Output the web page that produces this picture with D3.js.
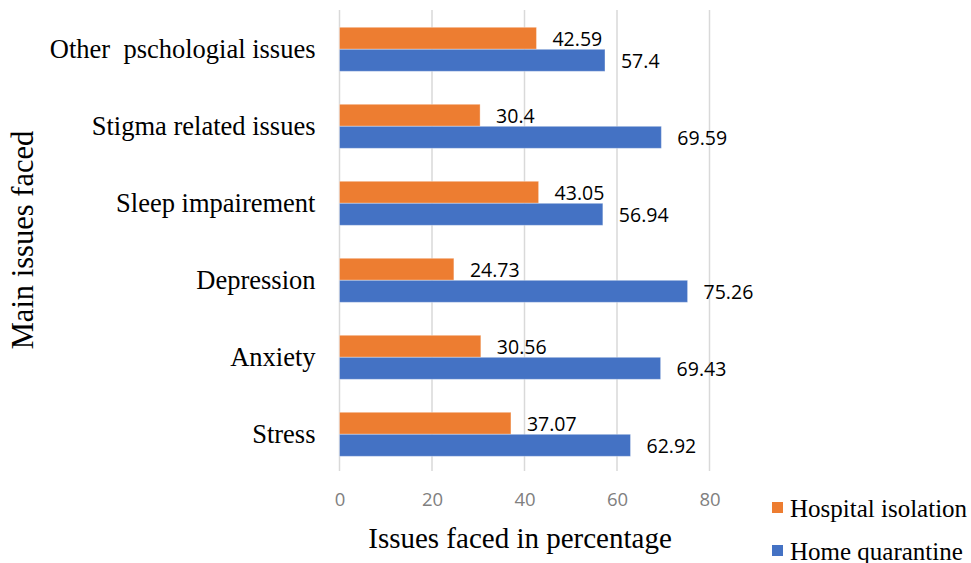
<!DOCTYPE html>
<html><head><meta charset="utf-8">
<script src="https://cdn.jsdelivr.net/npm/d3@7"></script>
<style>body{margin:0;background:#fff}</style>
</head><body>
<svg id="c" width="971" height="563"></svg>
<script>
const categories = ["Other  pschologial issues","Stigma related issues","Sleep impairement","Depression","Anxiety","Stress"];
const hospital = [42.59, 30.4, 43.05, 24.73, 30.56, 37.07];
const home = [57.4, 69.59, 56.94, 75.26, 69.43, 62.92];
const hospitalLabels = ["42.59","30.4","43.05","24.73","30.56","37.07"];
const homeLabels = ["57.4","69.59","56.94","75.26","69.43","62.92"];
const xTicks = [0,20,40,60,80];
const seriesNames = ["Hospital isolation","Home quarantine"];
const colors = ["#ED7D31","#4472C4"];

const svg = d3.select("#c");
const x = d3.scaleLinear().domain([0,80]).range([339.5,709.5]);
const y = d3.scaleBand().domain(categories).range([10.8,472.8]).paddingInner(0.428).paddingOuter(0.214);
const sub = d3.scaleBand().domain([0,1]).range([0,y.bandwidth()]);

// gridlines
svg.append("g").selectAll("line").data(xTicks).join("line")
  .attr("x1",d=>x(d)).attr("x2",d=>x(d)).attr("y1",10).attr("y2",471)
  .attr("stroke","#d9d9d9").attr("stroke-width",1.5);

// x axis tick labels
const xa = svg.append("g").attr("transform","translate(0,484)")
  .call(d3.axisBottom(x).tickValues(xTicks).tickSize(0).tickPadding(8));
xa.select(".domain").remove();
xa.selectAll("text").attr("font-family","Open Sans").attr("font-size",18.5).attr("fill","#808080").attr("dy","0.75em");

// y axis labels
const ya = svg.append("g").attr("transform","translate(339.5,0)")
  .call(d3.axisLeft(y).tickSize(0).tickPadding(24));
ya.select(".domain").remove();
ya.selectAll("text").attr("font-family","Liberation Serif").attr("font-size",26.5).attr("fill","#000")
  .style("white-space","pre");

const series = [hospital, home];
const labels = [hospitalLabels, homeLabels];
series.forEach((vals,si)=>{
  const g = svg.append("g");
  g.selectAll("rect").data(vals).join("rect")
    .attr("x",x(0)).attr("y",(d,i)=>y(categories[i])+sub(si))
    .attr("width",d=>x(d)-x(0)).attr("height",sub.bandwidth())
    .attr("fill",colors[si]).attr("stroke","#ffffff").attr("stroke-opacity",0.35).attr("stroke-width",1);
  g.selectAll("text").data(vals).join("text")
    .attr("x",d=>x(d)+16).attr("y",(d,i)=>y(categories[i])+sub(si)+sub.bandwidth()/2+1)
    .attr("dy","0.35em")
    .attr("font-family","Open Sans").attr("font-size",19.5).attr("fill","#000")
    .text((d,i)=>labels[si][i]);
});

// axis titles
svg.append("text").attr("transform","translate(33,240) rotate(-90)")
  .attr("text-anchor","middle").attr("font-family","Liberation Serif").attr("font-size",30.5).attr("fill","#000")
  .text("Main issues faced");
svg.append("text").attr("x",520).attr("y",548)
  .attr("text-anchor","middle").attr("font-family","Liberation Serif").attr("font-size",29).attr("fill","#000")
  .text("Issues faced in percentage");

// legend
const lg = svg.append("g");
seriesNames.forEach((n,i)=>{
  const cy = 508 + i*43;
  lg.append("rect").attr("x",772).attr("y",cy-6).attr("width",11).attr("height",11).attr("fill",colors[i]);
  lg.append("text").attr("x",790).attr("y",cy).attr("dy","0.35em")
    .attr("font-family","Liberation Serif").attr("font-size",25).attr("fill","#000").text(n);
});
</script>
</body></html>
